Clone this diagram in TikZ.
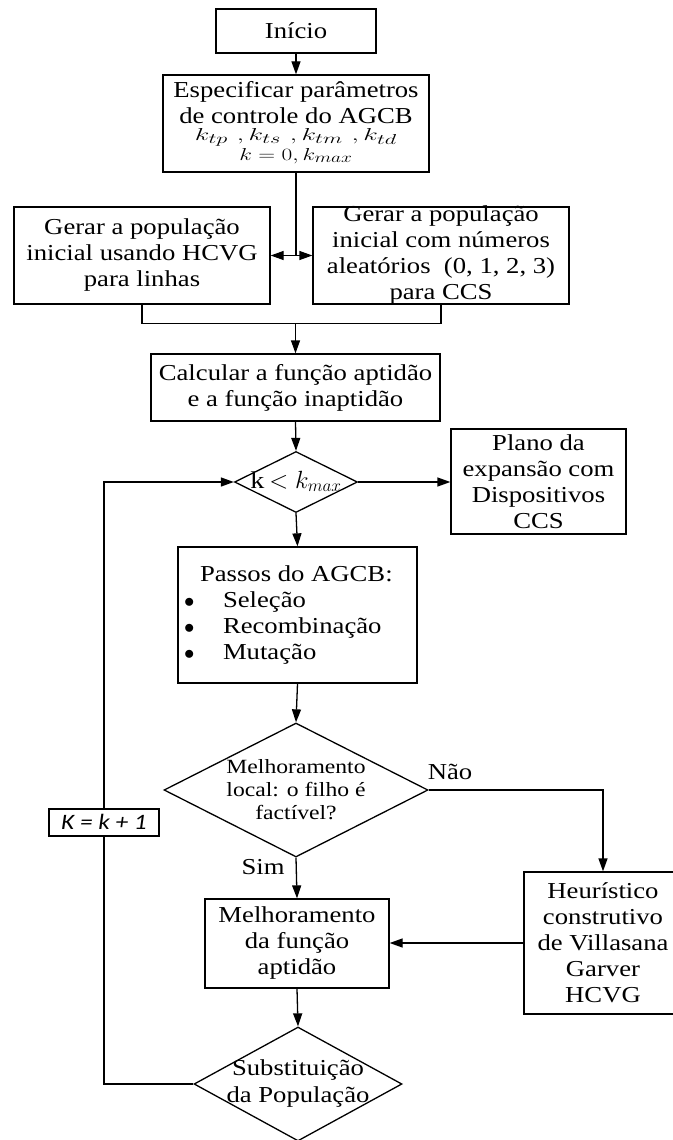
\documentclass[tikz,border=0pt]{standalone}
\usepackage{fontspec}
\setmainfont{Liberation Serif}[FakeStretch=1.17]
\newfontfamily\calib{Carlito}[FakeStretch=1.15]
\usepackage{graphicx}
\usetikzlibrary{arrows.meta,shapes.geometric}
\newcommand{\tx}[1]{\makebox[0pt]{\raisebox{\dimexpr(\depth-\height)/2\relax}[0pt][0pt]{\parbox{400pt}{\centering #1}}}}
\newcommand{\txl}[2]{\makebox[0pt]{\raisebox{\dimexpr(\depth-\height)/2\relax}[0pt][0pt]{\parbox{#1}{\raggedright #2}}}}
\begin{document}
\begin{tikzpicture}[x=1pt,y=-1pt,
  line width=1.3pt,
  >={Triangle[length=13pt,width=9pt]},
  box/.style={draw, rectangle, inner sep=0pt, fill=white},
  dia/.style={draw, diamond, inner sep=0pt, fill=white},
  txt/.style={font=\fontsize{22.8}{26}\selectfont},
  small/.style={font=\fontsize{20.2}{23}\selectfont},
  lbl/.style={inner sep=1pt, font=\fontsize{22.8}{26}\selectfont},
]
\useasboundingbox (0,0) rectangle (672,1140);

\node[box, txt, minimum width=160, minimum height=44] (inicio) at (296,31) {\tx{Início}};
\node[box, txt, minimum width=266, minimum height=97] (espec) at (296,123.5) {\raisebox{2pt}{\tx{Especificar parâmetros\\de controle do AGCB\\[-9pt]
\scalebox{1.55}[1]{\fontsize{19}{19}\selectfont$k_{tp}\ ,k_{ts}\ ,k_{tm}\ ,k_{td}$}\\[-6pt]
\scalebox{1.35}[1]{\fontsize{19}{19}\selectfont$k=0,k_{max}$}}}};
\node[box, txt, minimum width=256, minimum height=97] (gerL) at (142,255.5) {\tx{Gerar a população\\inicial usando HCVG\\para linhas}};
\node[box, txt, minimum width=256, minimum height=97] (gerR) at (441,255.5) {\tx{Gerar a população\\inicial com números\\aleatórios~~(0, 1, 2, 3)\\para CCS}};
\node[box, txt, minimum width=289, minimum height=67] (calc) at (295.5,387.5) {\tx{Calcular a função aptidão\\e a função inaptidão}};
\node[dia, minimum width=123, minimum height=61] (d1) at (296,482) {\makebox[0pt]{\raisebox{-6pt}[0pt][0pt]{\fontsize{24}{24}\selectfont$\mathrm{k} < k_{max}$}}};
\node[box, txt, minimum width=175, minimum height=105] (plano) at (538.5,481.5) {\tx{Plano da\\expansão com\\Dispositivos\\CCS}};
\node[box, txt, minimum width=239, minimum height=136] (passos) at (297.5,615) {\txl{239pt}{\hspace*{22pt}Passos do AGCB:\\
\hspace*{6pt}\makebox[39pt][l]{$\bullet$}Seleção\\
\hspace*{6pt}\makebox[39pt][l]{$\bullet$}Recombinação\\
\hspace*{6pt}\makebox[39pt][l]{$\bullet$}Mutação}};
\node[dia, small, minimum width=264, minimum height=134] (d2) at (296,790) {\tx{Melhoramento\\local: o filho é\\factível?}};
\node[box, minimum width=110, minimum height=27] (kbox) at (104,822.5) {\makebox[0pt]{\raisebox{-7pt}[0pt][0pt]{\calib\itshape\fontsize{22}{22}\selectfont K = k + 1}}};
\node[box, txt, minimum width=184, minimum height=89] (melh) at (297,943.5) {\tx{Melhoramento\\da função\\aptidão}};
\node[box, txt, minimum width=158, minimum height=142] (heur) at (603,943) {\tx{Heurístico\\construtivo\\de Villasana\\Garver\\HCVG}};
\node[dia, font=\fontsize{22.8}{27}\selectfont, minimum width=208, minimum height=114] (d3) at (298,1084) {\tx{Substituição\\da População}};

\node[lbl] (nao) at (450,772) {Não};
\node[lbl] (sim) at (263,867) {Sim};

\draw[->] (inicio.south) -- (espec.north);
\draw (espec.south) -- (espec.south |- gerL.east) coordinate (j1);
\draw[<->] (gerL.east) -- (gerR.west);
\draw (gerL.south) -- ++(0,19) coordinate (jl) -- (jl -| gerR.south) -- (gerR.south);
\draw[->] (jl -| calc.north) -- (calc.north);
\draw[->] (calc.south) -- (d1.north);
\draw[->] (d1.east) -- (d1.east -| plano.west);
\draw[->] (d1.south) -- (passos.north);
\draw[->] (passos.south) -- (d2.north);
\draw[->] (d2.east) -| (heur.north);
\draw[->] (d2.south) -- (melh.north);
\draw[->] (heur.west) -- (heur.west -| melh.east);
\draw[->] (melh.south) -- (d3.north);
\draw (d3.west) -| (kbox.south);
\draw[->] (kbox.north) |- (d1.west);
\end{tikzpicture}
\end{document}
